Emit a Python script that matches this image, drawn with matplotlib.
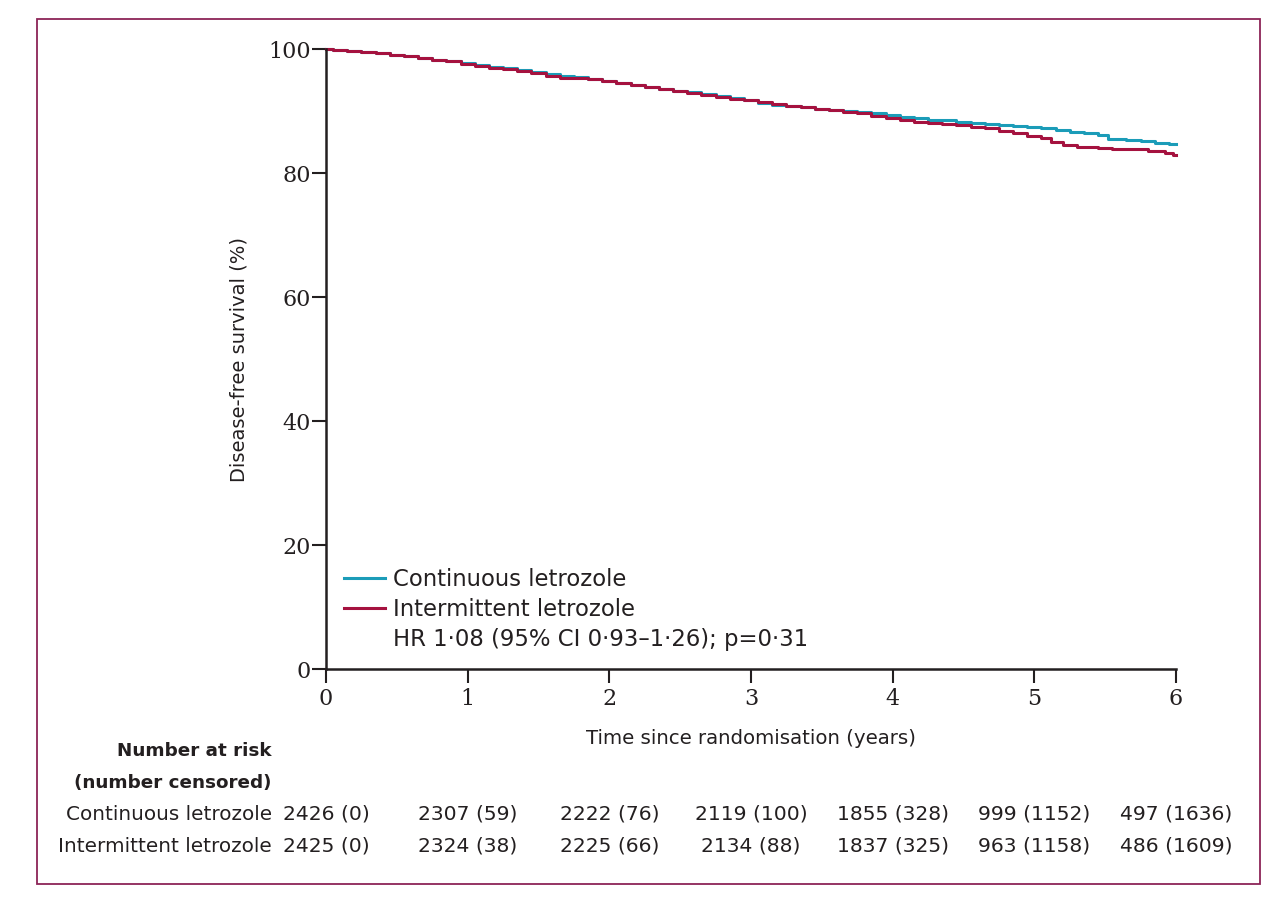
import matplotlib
matplotlib.use("Agg")
import matplotlib.pyplot as plt
import matplotlib.transforms as mtransforms
from matplotlib.lines import Line2D
from matplotlib.patches import Rectangle

# Kaplan-Meier steps (years, % disease-free)
cont_t = [0, 0.05, 0.15, 0.25, 0.35, 0.45, 0.55, 0.65, 0.75, 0.85, 0.95, 1.05, 1.15, 1.25,
          1.35, 1.45, 1.55, 1.65, 1.75, 1.85, 1.95, 2.05, 2.15, 2.25, 2.35, 2.45, 2.55, 2.65,
          2.75, 2.85, 2.95, 3.05, 3.15, 3.25, 3.35, 3.45, 3.55, 3.65, 3.75, 3.85, 3.95, 4.05,
          4.15, 4.25, 4.35, 4.45, 4.55, 4.65, 4.75, 4.85, 4.95, 5.05, 5.15, 5.25, 5.35, 5.45,
          5.52, 5.65, 5.75, 5.85, 5.95, 6.0]
cont_s = [100, 99.9, 99.7, 99.5, 99.3, 99.1, 98.8, 98.5, 98.2, 98.0, 97.7, 97.4, 97.1, 96.9,
          96.6, 96.3, 96.0, 95.7, 95.5, 95.2, 94.8, 94.5, 94.2, 93.9, 93.6, 93.3, 93.0, 92.7,
          92.4, 92.1, 91.7, 91.3, 91.0, 90.8, 90.6, 90.4, 90.2, 90.0, 89.8, 89.6, 89.3, 89.0,
          88.8, 88.6, 88.5, 88.3, 88.1, 87.9, 87.8, 87.6, 87.5, 87.3, 86.9, 86.6, 86.4, 86.2,
          85.5, 85.3, 85.1, 84.9, 84.7, 84.7]

int_t = [0, 0.05, 0.15, 0.25, 0.35, 0.45, 0.55, 0.65, 0.75, 0.85, 0.95, 1.05, 1.15, 1.25,
         1.35, 1.45, 1.55, 1.65, 1.75, 1.85, 1.95, 2.05, 2.15, 2.25, 2.35, 2.45, 2.55, 2.65,
         2.75, 2.85, 2.95, 3.05, 3.15, 3.25, 3.35, 3.45, 3.55, 3.65, 3.75, 3.85, 3.95, 4.05,
         4.15, 4.25, 4.35, 4.45, 4.55, 4.65, 4.75, 4.85, 4.95, 5.05, 5.12, 5.2, 5.3, 5.45,
         5.55, 5.65, 5.8, 5.92, 5.98, 6.0]
int_s = [100, 99.9, 99.7, 99.5, 99.3, 99.1, 98.8, 98.5, 98.2, 98.0, 97.6, 97.3, 97.0, 96.7,
         96.4, 96.1, 95.7, 95.4, 95.3, 95.1, 94.8, 94.5, 94.2, 93.9, 93.6, 93.3, 92.9, 92.6,
         92.3, 92.0, 91.7, 91.4, 91.1, 90.8, 90.6, 90.4, 90.1, 89.9, 89.6, 89.2, 88.9, 88.5,
         88.2, 88.0, 87.9, 87.8, 87.5, 87.2, 86.8, 86.4, 86.0, 85.6, 85.0, 84.5, 84.2, 84.1,
         83.9, 83.8, 83.6, 83.3, 82.9, 82.9]

years = [0, 1, 2, 3, 4, 5, 6]
risk_cont = ["2426 (0)", "2307 (59)", "2222 (76)", "2119 (100)", "1855 (328)", "999 (1152)", "497 (1636)"]
risk_int = ["2425 (0)", "2324 (38)", "2225 (66)", "2134 (88)", "1837 (325)", "963 (1158)", "486 (1609)"]

blue = "#1b9cb8"
red = "#a5123f"
ink = "#231f20"

plt.rcParams["font.family"] = "DejaVu Sans"

fig = plt.figure(figsize=(12.84, 9.06), dpi=100)
ax = fig.add_axes([326 / 1284, 1 - 669 / 906, 850 / 1284, 620 / 906])

ax.plot(cont_t, cont_s, drawstyle="steps-post", color=blue, lw=2.2, clip_on=False)
ax.plot(int_t, int_s, drawstyle="steps-post", color=red, lw=2.2, clip_on=False)

ax.set_xlim(0, 6)
ax.set_ylim(0, 100)
ax.set_xticks(years)
ax.set_yticks([0, 20, 40, 60, 80, 100])
for s in ["top", "right"]:
    ax.spines[s].set_visible(False)
for s in ["left", "bottom"]:
    ax.spines[s].set_linewidth(1.8)
    ax.spines[s].set_color(ink)
ax.tick_params(length=10, width=1.5, color=ink, labelcolor=ink, labelsize=16, pad=1)
ax.tick_params(axis="x", pad=4)
for lab in ax.get_xticklabels() + ax.get_yticklabels():
    lab.set_family("DejaVu Serif")

ax.set_xlabel("Time since randomisation (years)", fontsize=14.2, color=ink, labelpad=13)
ax.set_ylabel("Disease-free survival (%)", fontsize=14, color=ink, labelpad=14)

handles = [Line2D([], [], color=blue, lw=2.2), Line2D([], [], color=red, lw=2.2),
           Line2D([], [], color="none")]
labels = ["Continuous letrozole", "Intermittent letrozole", "HR 1\u00b708 (95% CI 0\u00b793\u20131\u00b726); p=0\u00b731"]
leg = ax.legend(handles, labels, loc="lower left", bbox_to_anchor=(0.0, 0.0), frameon=False,
                fontsize=16.4, handlelength=1.8, handletextpad=0.36, labelspacing=0.3,
                borderaxespad=0.0, borderpad=0.8)
for t in leg.get_texts():
    t.set_color(ink)

# number at risk table
trans = mtransforms.blended_transform_factory(ax.transData, fig.transFigure)
fig.text(272 / 1284, 1 - 751 / 906, "Number at risk", ha="right", va="center",
         fontsize=13.2, fontweight="bold", color=ink)
fig.text(272 / 1284, 1 - 783 / 906, "(number censored)", ha="right", va="center",
         fontsize=13.2, fontweight="bold", color=ink)
fig.text(272 / 1284, 1 - 814 / 906, "Continuous letrozole", ha="right", va="center",
         fontsize=14.4, color=ink)
fig.text(272 / 1284, 1 - 846 / 906, "Intermittent letrozole", ha="right", va="center",
         fontsize=14.4, color=ink)
for x, a, b in zip(years, risk_cont, risk_int):
    ax.text(x, 1 - 814 / 906, a, transform=trans, ha="center", va="center", fontsize=14.6, color=ink)
    ax.text(x, 1 - 846 / 906, b, transform=trans, ha="center", va="center", fontsize=14.6, color=ink)

fig.patches.append(Rectangle((37 / 1284, 1 - 884 / 906), 1223 / 1284, 865 / 906,
                             transform=fig.transFigure, fill=False, edgecolor="#8c2457", lw=1.3))

fig.savefig("out.png", dpi=100)
